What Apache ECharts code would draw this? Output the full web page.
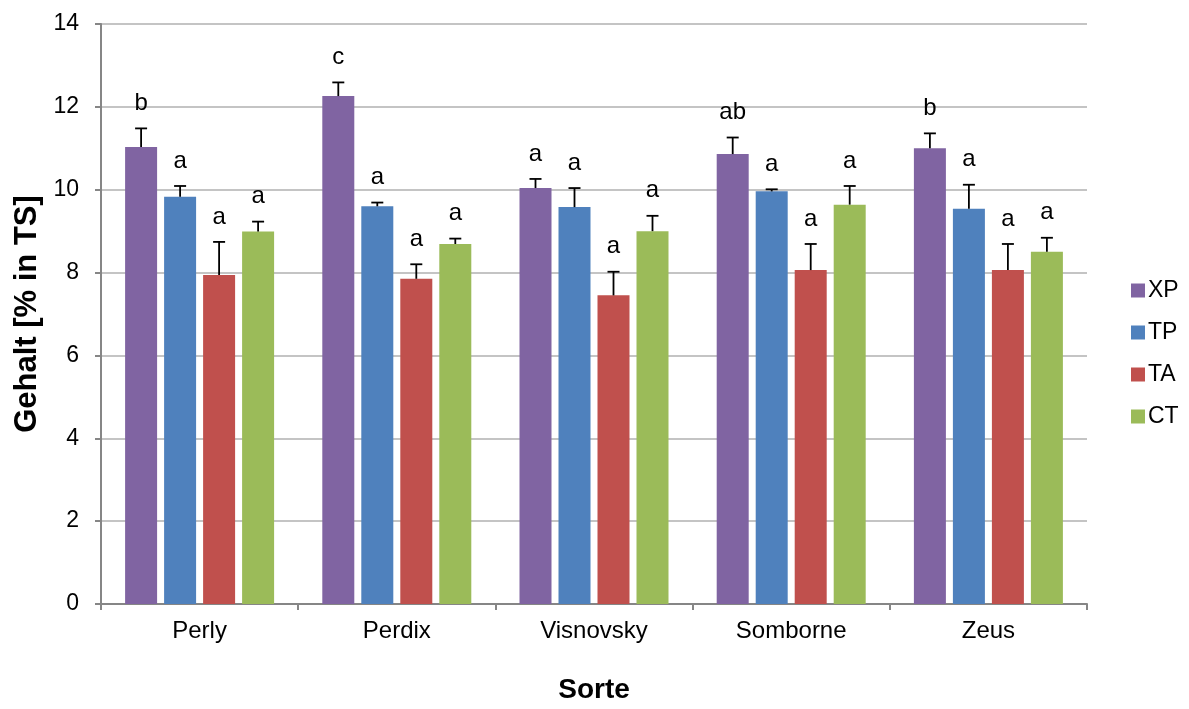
<!DOCTYPE html>
<html>
<head>
<meta charset="utf-8">
<script src="https://cdn.jsdelivr.net/npm/echarts@6/dist/echarts.min.js"></script>
<style>
  html, body { margin: 0; padding: 0; background: #fff; }
  #main { width: 1189px; height: 709px; }
</style>
</head>
<body>
<div id="main"></div>
<script>
// Sorten
var categories = ["Perly", "Perdix", "Visnovsky", "Somborne", "Zeus"];
var seriesNames = ["XP", "TP", "TA", "CT"];

// Mittelwerte
var xpValues = [11.03, 12.26, 10.04, 10.86, 11.0];
var tpValues = [9.83, 9.6, 9.58, 9.96, 9.54];
var taValues = [7.94, 7.85, 7.45, 8.06, 8.06];
var ctValues = [8.99, 8.69, 9.0, 9.64, 8.5];

// Standardabweichung (nur nach oben)
var xpErr = [0.45, 0.33, 0.22, 0.4, 0.36];
var tpErr = [0.26, 0.09, 0.46, 0.05, 0.58];
var taErr = [0.8, 0.35, 0.57, 0.63, 0.63];
var ctErr = [0.24, 0.13, 0.37, 0.45, 0.34];

// Signifikanzbuchstaben
var xpLetters = ["b", "c", "a", "ab", "b"];
var tpLetters = ["a", "a", "a", "a", "a"];
var taLetters = ["a", "a", "a", "a", "a"];
var ctLetters = ["a", "a", "a", "a", "a"];

var yTicks = [0, 2, 4, 6, 8, 10, 12, 14];

var values = [xpValues, tpValues, taValues, ctValues];
var errors = [xpErr, tpErr, taErr, ctErr];
var letters = [xpLetters, tpLetters, taLetters, ctLetters];
var colors = ["#8064A2", "#4F81BD", "#C0504D", "#9BBB59"];

var BAR_W = 32;
var BAR_GAP = 7;
var FONT = "Liberation Sans, Arial, sans-serif";

var chart = echarts.init(document.getElementById("main"));

var series = [];
seriesNames.forEach(function (name, i) {
  series.push({
    name: name,
    type: "bar",
    data: values[i],
    barWidth: BAR_W,
    barGap: (BAR_GAP / BAR_W * 100) + "%",
    itemStyle: { color: colors[i] }
  });
});

// Fehlerbalken + Buchstaben
seriesNames.forEach(function (name, i) {
  var data = categories.map(function (c, k) {
    return [k, values[i][k], errors[i][k], letters[i][k]];
  });
  series.push({
    type: "custom",
    name: name + "_err",
    data: data,
    z: 5,
    encode: { x: 0, y: 1 },
    renderItem: function (params, api) {
      var k = api.value(0);
      var v = api.value(1);
      var e = api.value(2);
      var txt = data[params.dataIndex][3];
      var off = (i - 1.5) * (BAR_W + BAR_GAP);
      var p0 = api.coord([k, v]);
      var p1 = api.coord([k, v + e]);
      var x = p0[0] + off;
      var st = { stroke: "#000", lineWidth: 1.8 };
      return {
        type: "group",
        children: [
          { type: "line", shape: { x1: x, y1: p0[1], x2: x, y2: p1[1] }, style: st },
          { type: "line", shape: { x1: x - 6, y1: p1[1], x2: x + 6, y2: p1[1] }, style: st },
          {
            type: "text",
            style: {
              x: x, y: p1[1] - 25, text: txt,
              align: "center", verticalAlign: "middle",
              font: "24px " + FONT, fill: "#000"
            }
          }
        ]
      };
    }
  });
});

var option = {
  animation: false,
  textStyle: { fontFamily: FONT },
  grid: { left: 101, right: 102, top: 24, bottom: 101 },
  legend: {
    data: seriesNames,
    orient: "vertical",
    left: 1126,
    top: 274,
    icon: "rect",
    itemWidth: 14,
    itemHeight: 14,
    itemGap: 19,
    textStyle: { fontSize: 23, color: "#000", fontFamily: FONT, padding: [0, 0, 0, -2] }
  },
  xAxis: {
    type: "category",
    data: categories,
    name: "Sorte",
    nameLocation: "middle",
    nameGap: 72,
    nameTextStyle: { fontSize: 28, fontWeight: "bold", color: "#000" },
    axisLine: { lineStyle: { color: "#868686", width: 2 } },
    axisTick: { show: true, length: 6, lineStyle: { color: "#868686", width: 2 } },
    axisLabel: { fontSize: 24, color: "#000", margin: 15 }
  },
  yAxis: {
    type: "value",
    min: yTicks[0],
    max: yTicks[yTicks.length - 1],
    interval: 2,
    name: "Gehalt [% in TS]",
    nameLocation: "middle",
    nameGap: 56,
    nameTextStyle: { fontSize: 31, fontWeight: "bold", color: "#000" },
    axisLine: { show: true, lineStyle: { color: "#868686", width: 2 } },
    axisTick: { show: true, length: 6, lineStyle: { color: "#868686", width: 2 } },
    axisLabel: { fontSize: 23, color: "#000", margin: 22 },
    splitLine: { lineStyle: { color: "#c4c4c4", width: 2 } }
  },
  series: series
};

chart.setOption(option);
</script>
</body>
</html>
